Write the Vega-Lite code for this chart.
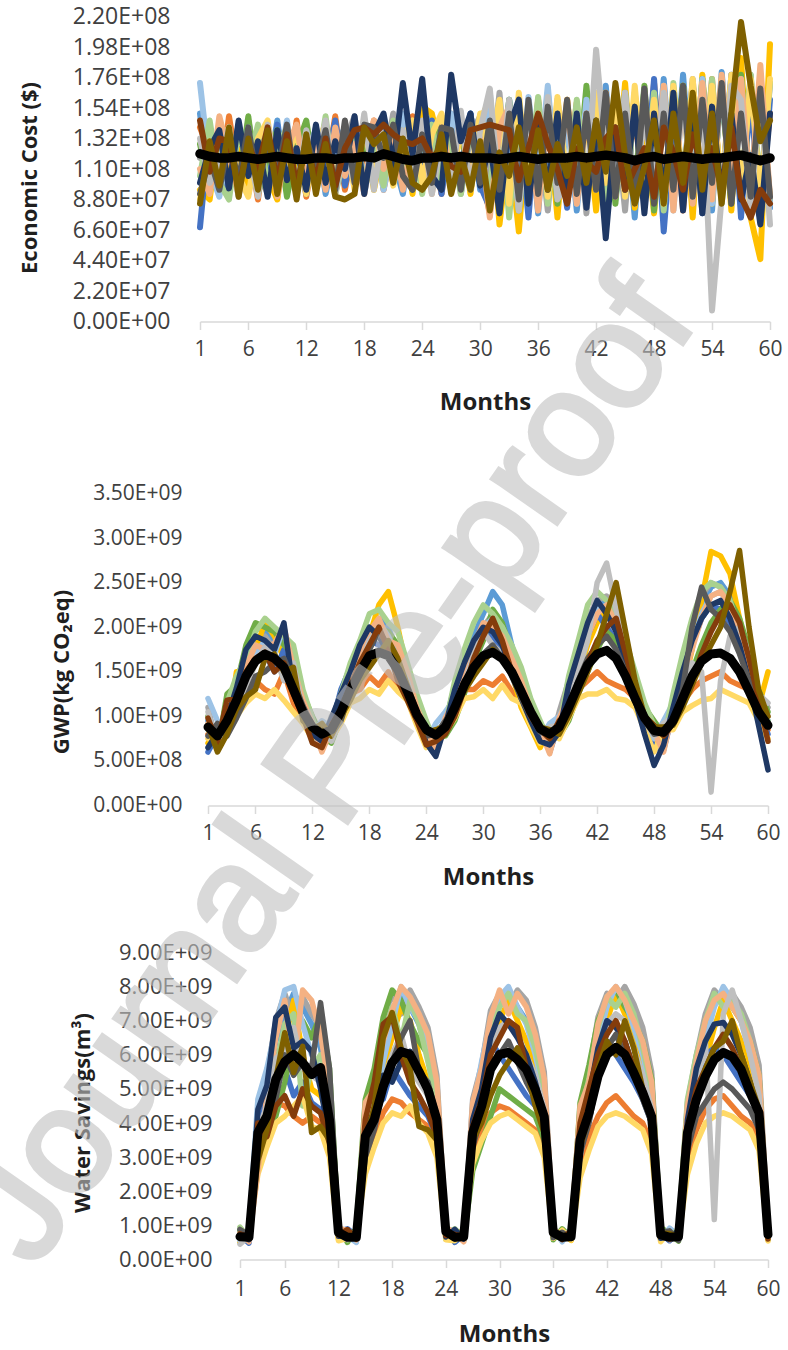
{
"$schema": "https://vega.github.io/schema/vega-lite/v6.json",
"background": "white",
"padding": {"left": -64, "top": 5.5, "right": 5, "bottom": 5},
"bounds": "flush",
"spacing": 147,
"config": {"view": {"stroke": null}, "font": "Open Sans"},
"vconcat": [
{
"width": 570, "height": 305,
"data": {"values": [
{"t":1,"a":150,"b":140,"c":118,"d":95,"e":68,"f":128,"g":172,"h":105,"i":88,"j":110,"k":132,"l":100,"m":92,"n":145,"o":85,"x":121},
{"t":2,"a":98,"b":122,"c":135,"d":88,"e":140,"f":96,"g":110,"h":145,"i":130,"j":92,"k":100,"l":125,"m":118,"n":108,"o":130,"x":119},
{"t":3,"a":135,"b":92,"c":100,"d":142,"e":105,"f":118,"g":90,"h":100,"i":128,"j":148,"k":115,"l":138,"m":95,"n":132,"o":98,"x":118},
{"t":4,"a":105,"b":148,"c":125,"d":110,"e":92,"f":135,"g":128,"h":88,"i":140,"j":120,"k":140,"l":96,"m":130,"n":130,"o":140,"x":118},
{"t":5,"a":142,"b":105,"c":90,"d":128,"e":138,"f":98,"g":100,"h":138,"i":105,"j":92,"k":95,"l":145,"m":102,"n":95,"o":90,"x":119},
{"t":6,"a":92,"b":130,"c":145,"d":95,"e":110,"f":148,"g":140,"h":112,"i":90,"j":132,"k":125,"l":105,"m":140,"n":128,"o":132,"x":118},
{"t":7,"a":128,"b":88,"c":110,"d":140,"e":125,"f":92,"g":95,"h":142,"i":132,"j":100,"k":90,"l":130,"m":98,"n":110,"o":95,"x":117},
{"t":8,"a":100,"b":140,"c":92,"d":105,"e":95,"f":120,"g":135,"h":98,"i":145,"j":138,"k":142,"l":90,"m":128,"n":140,"o":138,"x":118},
{"t":9,"a":145,"b":112,"c":135,"d":88,"e":142,"f":138,"g":105,"h":125,"i":100,"j":90,"k":108,"l":138,"m":105,"n":100,"o":92,"x":119},
{"t":10,"a":95,"b":98,"c":102,"d":135,"e":100,"f":90,"g":145,"h":140,"i":118,"j":125,"k":130,"l":102,"m":142,"n":135,"o":130,"x":118},
{"t":11,"a":132,"b":145,"c":140,"d":112,"e":128,"f":125,"g":92,"h":95,"i":138,"j":142,"k":95,"l":125,"m":95,"n":98,"o":88,"x":117},
{"t":12,"a":110,"b":90,"c":95,"d":140,"e":92,"f":145,"g":120,"h":135,"i":92,"j":100,"k":138,"l":95,"m":132,"n":128,"o":135,"x":117},
{"t":13,"a":140,"b":130,"c":125,"d":98,"e":138,"f":100,"g":138,"h":105,"i":128,"j":130,"k":110,"l":142,"m":110,"n":102,"o":92,"x":118},
{"t":14,"a":92,"b":105,"c":142,"d":130,"e":110,"f":128,"g":98,"h":148,"i":142,"j":95,"k":145,"l":100,"m":138,"n":132,"o":128,"x":118},
{"t":15,"a":125,"b":148,"c":100,"d":92,"e":145,"f":95,"g":130,"h":92,"i":100,"j":140,"k":92,"l":130,"m":95,"n":98,"o":90,"x":117},
{"t":16,"a":140,"b":95,"c":130,"d":138,"e":98,"f":140,"g":108,"h":120,"i":135,"j":105,"k":128,"l":110,"m":145,"n":125,"o":88,"x":118},
{"t":17,"a":98,"b":132,"c":148,"d":110,"e":128,"f":105,"g":145,"h":138,"i":95,"j":128,"k":100,"l":148,"m":100,"n":138,"o":92,"x":118},
{"t":18,"a":135,"b":110,"c":92,"d":145,"e":95,"f":132,"g":100,"h":100,"i":140,"j":92,"k":150,"l":92,"m":142,"n":140,"o":140,"x":119},
{"t":19,"a":102,"b":145,"c":128,"d":95,"e":140,"f":98,"g":138,"h":132,"i":105,"j":145,"k":95,"l":135,"m":140,"n":135,"o":128,"x":118},
{"t":20,"a":145,"b":95,"c":110,"d":130,"e":110,"f":142,"g":95,"h":98,"i":138,"j":110,"k":140,"l":150,"m":118,"n":142,"o":135,"x":121},
{"t":21,"a":118,"b":130,"c":150,"d":100,"e":132,"f":110,"g":128,"h":145,"i":98,"j":135,"k":105,"l":112,"m":142,"n":135,"o":100,"x":119},
{"t":22,"a":92,"b":108,"c":100,"d":142,"e":98,"f":138,"g":150,"h":110,"i":132,"j":95,"k":138,"l":172,"m":105,"n":130,"o":132,"x":117},
{"t":23,"a":140,"b":148,"c":135,"d":92,"e":128,"f":95,"g":105,"h":138,"i":145,"j":130,"k":98,"l":120,"m":95,"n":128,"o":100,"x":116},
{"t":24,"a":110,"b":100,"c":95,"d":155,"e":100,"f":135,"g":140,"h":92,"i":100,"j":142,"k":145,"l":175,"m":135,"n":132,"o":95,"x":118},
{"t":25,"a":148,"b":130,"c":140,"d":150,"e":145,"f":100,"g":95,"h":142,"i":135,"j":92,"k":92,"l":105,"m":100,"n":118,"o":105,"x":118},
{"t":26,"a":95,"b":92,"c":108,"d":120,"e":92,"f":148,"g":130,"h":100,"i":150,"j":140,"k":130,"l":95,"m":140,"n":125,"o":135,"x":119},
{"t":27,"a":132,"b":145,"c":150,"d":98,"e":140,"f":110,"g":150,"h":135,"i":98,"j":105,"k":100,"l":178,"m":138,"n":112,"o":92,"x":118},
{"t":28,"a":105,"b":98,"c":92,"d":140,"e":108,"f":142,"g":100,"h":92,"i":140,"j":148,"k":152,"l":130,"m":95,"n":108,"o":120,"x":119},
{"t":29,"a":150,"b":138,"c":135,"d":92,"e":150,"f":95,"g":148,"h":140,"i":105,"j":98,"k":95,"l":150,"m":142,"n":138,"o":95,"x":118},
{"t":30,"a":95,"b":110,"c":148,"d":145,"e":98,"f":135,"g":108,"h":105,"i":150,"j":132,"k":138,"l":98,"m":100,"n":140,"o":130,"x":118},
{"t":31,"a":140,"b":78,"c":100,"d":160,"e":82,"f":152,"g":165,"h":95,"i":120,"j":75,"k":168,"l":130,"m":145,"n":142,"o":80,"x":118},
{"t":32,"a":85,"b":150,"c":165,"d":70,"e":145,"f":90,"g":95,"h":158,"i":160,"j":140,"k":90,"l":78,"m":95,"n":140,"o":122,"x":117},
{"t":33,"a":160,"b":95,"c":82,"d":130,"e":100,"f":160,"g":140,"h":75,"i":85,"j":155,"k":160,"l":140,"m":150,"n":138,"o":105,"x":118},
{"t":34,"a":100,"b":140,"c":150,"d":65,"e":150,"f":80,"g":80,"h":150,"i":165,"j":90,"k":80,"l":160,"m":88,"n":102,"o":140,"x":119},
{"t":35,"a":150,"b":82,"c":95,"d":145,"e":75,"f":145,"g":162,"h":95,"i":92,"j":148,"k":150,"l":85,"m":160,"n":125,"o":100,"x":118},
{"t":36,"a":78,"b":160,"c":140,"d":90,"e":158,"f":100,"g":100,"h":162,"i":150,"j":80,"k":95,"l":145,"m":92,"n":150,"o":138,"x":117},
{"t":37,"a":165,"b":92,"c":80,"d":150,"e":95,"f":160,"g":170,"h":85,"i":90,"j":155,"k":162,"l":95,"m":155,"n":128,"o":95,"x":118},
{"t":38,"a":92,"b":145,"c":160,"d":75,"e":140,"f":85,"g":90,"h":148,"i":162,"j":100,"k":88,"l":150,"m":100,"n":110,"o":128,"x":118},
{"t":39,"a":150,"b":100,"c":95,"d":160,"e":82,"f":150,"g":145,"h":92,"i":100,"j":160,"k":100,"l":88,"m":160,"n":85,"o":105,"x":118},
{"t":40,"a":80,"b":158,"c":150,"d":95,"e":155,"f":92,"g":85,"h":160,"i":145,"j":85,"k":150,"l":150,"m":92,"n":125,"o":140,"x":119},
{"t":41,"a":160,"b":85,"c":78,"d":150,"e":100,"f":170,"g":160,"h":100,"i":88,"j":150,"k":90,"l":82,"m":150,"n":115,"o":100,"x":118},
{"t":42,"a":95,"b":150,"c":165,"d":80,"e":150,"f":95,"g":100,"h":150,"i":165,"j":95,"k":196,"l":145,"m":95,"n":108,"o":145,"x":119},
{"t":43,"a":170,"b":95,"c":90,"d":165,"e":68,"f":160,"g":150,"h":88,"i":100,"j":165,"k":120,"l":60,"m":165,"n":132,"o":108,"x":120},
{"t":44,"a":88,"b":165,"c":150,"d":90,"e":148,"f":85,"g":95,"h":160,"i":158,"j":90,"k":100,"l":140,"m":90,"n":140,"o":172,"x":119},
{"t":45,"a":155,"b":100,"c":80,"d":172,"e":95,"f":165,"g":165,"h":95,"i":90,"j":160,"k":165,"l":95,"m":150,"n":95,"o":120,"x":118},
{"t":46,"a":75,"b":150,"c":165,"d":82,"e":160,"f":95,"g":88,"h":155,"i":170,"j":85,"k":88,"l":155,"m":88,"n":110,"o":85,"x":116},
{"t":47,"a":165,"b":85,"c":95,"d":150,"e":90,"f":170,"g":160,"h":88,"i":95,"j":165,"k":150,"l":78,"m":168,"n":125,"o":112,"x":118},
{"t":48,"a":95,"b":172,"c":160,"d":78,"e":175,"f":80,"g":95,"h":165,"i":160,"j":90,"k":95,"l":150,"m":85,"n":90,"o":145,"x":119},
{"t":49,"a":175,"b":90,"c":75,"d":160,"e":65,"f":165,"g":170,"h":80,"i":85,"j":170,"k":165,"l":90,"m":150,"n":140,"o":85,"x":117},
{"t":50,"a":85,"b":165,"c":165,"d":88,"e":150,"f":95,"g":80,"h":172,"i":170,"j":80,"k":100,"l":165,"m":95,"n":122,"o":150,"x":118},
{"t":51,"a":178,"b":80,"c":90,"d":170,"e":100,"f":170,"g":165,"h":95,"i":95,"j":168,"k":160,"l":80,"m":170,"n":95,"o":100,"x":119},
{"t":52,"a":90,"b":170,"c":175,"d":75,"e":172,"f":88,"g":90,"h":165,"i":175,"j":85,"k":90,"l":160,"m":90,"n":135,"o":165,"x":118},
{"t":53,"a":170,"b":95,"c":80,"d":178,"e":78,"f":175,"g":175,"h":90,"i":88,"j":172,"k":160,"l":78,"m":160,"n":110,"o":95,"x":117},
{"t":54,"a":80,"b":175,"c":170,"d":85,"e":160,"f":90,"g":85,"h":175,"i":170,"j":88,"k":8,"l":155,"m":100,"n":125,"o":150,"x":118},
{"t":55,"a":180,"b":88,"c":90,"d":175,"e":90,"f":170,"g":172,"h":85,"i":95,"j":178,"k":90,"l":90,"m":172,"n":95,"o":85,"x":118},
{"t":56,"a":90,"b":168,"c":175,"d":80,"e":178,"f":85,"g":90,"h":170,"i":178,"j":90,"k":170,"l":150,"m":85,"n":140,"o":150,"x":119},
{"t":57,"a":172,"b":90,"c":85,"d":190,"e":75,"f":178,"g":175,"h":92,"i":90,"j":175,"k":160,"l":88,"m":150,"n":90,"o":216,"x":120},
{"t":58,"a":95,"b":175,"c":178,"d":75,"e":165,"f":92,"g":88,"h":178,"i":175,"j":92,"k":80,"l":120,"m":90,"n":75,"o":170,"x":118},
{"t":59,"a":175,"b":85,"c":80,"d":45,"e":72,"f":170,"g":170,"h":95,"i":90,"j":185,"k":165,"l":70,"m":168,"n":95,"o":130,"x":116},
{"t":60,"a":82,"b":150,"c":172,"d":200,"e":160,"f":88,"g":85,"h":172,"i":175,"j":90,"k":70,"l":150,"m":90,"n":85,"o":145,"x":118}
]},
"transform": [{"fold": ["a","b","c","d","e","f","g","h","i","j","k","l","m","n","o","x"], "as": ["s","v"]}],
"encoding": {
"x": {"field": "t", "type": "quantitative",
 "scale": {"domain": [1,60], "range": [0,570], "nice": false, "zero": false},
 "axis": {"values": [1,6,12,18,24,30,36,42,48,54,60], "title": "Months", "grid": false, "domainColor": "#d9d9d9", "domainWidth": 1.5, "tickColor": "#d9d9d9", "tickWidth": 1.5, "tickSize": 8, "labelFontSize": 21, "labelPadding": 9, "labelFlush": false, "labelOverlap": false, "labelColor": "#404040", "titleFontSize": 24, "titleFontWeight": "bold", "titleColor": "#1f1f1f", "titleY": 81, "titleBaseline": "middle"}},
"y": {"field": "v", "type": "quantitative",
 "scale": {"domain": [0,220], "nice": false, "zero": true},
 "axis": {"values": [0,22,44,66,88,110,132,154,176,198,220], "title": "Economic Cost ($)", "grid": false, "domain": false, "ticks": false, "tickSize": 0, "labelPadding": 30, "labelFontSize": 23, "labelOverlap": false, "labelColor": "#404040",
  "labelExpr": "datum.value == 0 ? '0.00E+00' : format(datum.value*1e6/pow(10,floor(log(datum.value*1e6)/LN10+1e-9)),'.2f')+'E+'+(floor(log(datum.value*1e6)/LN10+1e-9)<10?'0':'')+floor(log(datum.value*1e6)/LN10+1e-9)",
  "titleX": -171, "titleY": 161, "titleAngle": 270, "titleBaseline": "middle", "titleAlign": "center", "titleFontSize": 22, "titleFontWeight": "bold", "titleColor": "#1f1f1f"}}
},
"layer": [
{"transform": [{"filter": "datum.s !== 'x'"}],
 "mark": {"type": "line", "strokeWidth": 6, "strokeCap": "round", "strokeJoin": "round"},
 "encoding": {"color": {"field": "s", "type": "nominal", "legend": null,
  "scale": {"domain": ["a","b","c","d","e","f","g","h","i","j","k","l","m","n","o"], "range": ["#5B9BD5","#ED7D31","#A5A5A5","#FFC000","#4472C4","#70AD47","#9DC3E6","#A9D18E","#FFD966","#F4B183","#BFBFBF","#1F3864","#595959","#843C0C","#7F6000"]}}}},
{"transform": [{"filter": "datum.s === 'x'"}],
 "mark": {"type": "line", "color": "#000000", "strokeWidth": 9.5, "strokeCap": "round", "strokeJoin": "round"},
 "encoding": {}}
]
},
{
"width": 570, "height": 337,
"data": {"values": [
{"t":1,"a":95,"b":80,"c":110,"d":70,"e":60,"f":100,"g":120,"h":85,"i":75,"j":92,"k":105,"l":65,"m":78,"n":98,"o":90,"x":88},
{"t":2,"a":72,"b":90,"c":65,"d":85,"e":80,"f":62,"g":95,"h":70,"i":88,"j":75,"k":68,"l":82,"m":92,"n":70,"o":60,"x":78},
{"t":3,"a":110,"b":88,"c":120,"d":80,"e":100,"f":125,"g":85,"h":115,"i":92,"j":105,"k":82,"l":98,"m":78,"n":118,"o":80,"x":95},
{"t":4,"a":140,"b":110,"c":125,"d":150,"e":105,"f":135,"g":115,"h":145,"i":100,"j":128,"k":112,"l":132,"m":98,"n":120,"o":108,"x":118},
{"t":5,"a":170,"b":125,"c":160,"d":150,"e":140,"f":180,"g":148,"h":165,"i":115,"j":155,"k":130,"l":175,"m":120,"n":150,"o":122,"x":145},
{"t":6,"a":200,"b":140,"c":185,"d":175,"e":165,"f":205,"g":170,"h":195,"i":125,"j":180,"k":160,"l":190,"m":145,"n":165,"o":130,"x":162},
{"t":7,"a":195,"b":130,"c":190,"d":205,"e":170,"f":200,"g":185,"h":210,"i":120,"j":175,"k":178,"l":185,"m":150,"n":172,"o":165,"x":170},
{"t":8,"a":185,"b":125,"c":175,"d":190,"e":150,"f":195,"g":170,"h":200,"i":130,"j":182,"k":170,"l":175,"m":160,"n":150,"o":170,"x":165},
{"t":9,"a":190,"b":150,"c":195,"d":165,"e":175,"f":180,"g":200,"h":190,"i":118,"j":200,"k":140,"l":205,"m":165,"n":160,"o":150,"x":155},
{"t":10,"a":150,"b":115,"c":160,"d":130,"e":145,"f":170,"g":140,"h":180,"i":105,"j":155,"k":160,"l":130,"m":140,"n":125,"o":155,"x":130},
{"t":11,"a":112,"b":95,"c":120,"d":100,"e":110,"f":125,"g":98,"h":130,"i":92,"j":118,"k":105,"l":108,"m":112,"n":100,"o":95,"x":105},
{"t":12,"a":90,"b":80,"c":95,"d":78,"e":85,"f":100,"g":82,"h":98,"i":75,"j":92,"k":88,"l":80,"m":90,"n":70,"o":85,"x":88},
{"t":13,"a":75,"b":85,"c":68,"d":90,"e":62,"f":78,"g":95,"h":70,"i":82,"j":60,"k":88,"l":72,"m":80,"n":65,"o":92,"x":80},
{"t":14,"a":92,"b":78,"c":100,"d":82,"e":90,"f":70,"g":88,"h":95,"i":75,"j":85,"k":72,"l":98,"m":80,"n":90,"o":78,"x":85},
{"t":15,"a":120,"b":95,"c":115,"d":102,"e":130,"f":98,"g":110,"h":125,"i":92,"j":118,"k":100,"l":125,"m":95,"n":108,"o":100,"x":105},
{"t":16,"a":150,"b":125,"c":140,"d":135,"e":155,"f":120,"g":145,"h":160,"i":115,"j":140,"k":130,"l":150,"m":128,"n":135,"o":118,"x":130},
{"t":17,"a":175,"b":130,"c":180,"d":160,"e":170,"f":150,"g":165,"h":185,"i":120,"j":170,"k":155,"l":180,"m":150,"n":160,"o":140,"x":150},
{"t":18,"a":195,"b":145,"c":200,"d":190,"e":185,"f":175,"g":190,"h":215,"i":130,"j":195,"k":185,"l":200,"m":175,"n":180,"o":155,"x":168},
{"t":19,"a":210,"b":135,"c":195,"d":225,"e":180,"f":200,"g":205,"h":220,"i":125,"j":210,"k":200,"l":190,"m":195,"n":200,"o":170,"x":172},
{"t":20,"a":200,"b":150,"c":185,"d":240,"e":170,"f":195,"g":190,"h":205,"i":140,"j":185,"k":175,"l":170,"m":180,"n":175,"o":185,"x":168},
{"t":21,"a":170,"b":130,"c":175,"d":200,"e":160,"f":180,"g":165,"h":195,"i":128,"j":180,"k":160,"l":150,"m":155,"n":140,"o":165,"x":152},
{"t":22,"a":140,"b":120,"c":150,"d":150,"e":130,"f":145,"g":135,"h":160,"i":118,"j":150,"k":140,"l":125,"m":125,"n":118,"o":135,"x":128},
{"t":23,"a":108,"b":95,"c":115,"d":100,"e":105,"f":112,"g":100,"h":125,"i":90,"j":110,"k":100,"l":98,"m":100,"n":95,"o":105,"x":102},
{"t":24,"a":80,"b":78,"c":88,"d":75,"e":82,"f":90,"g":72,"h":95,"i":65,"j":85,"k":80,"l":70,"m":78,"n":68,"o":82,"x":85},
{"t":25,"a":70,"b":82,"c":65,"d":88,"e":58,"f":75,"g":92,"h":68,"i":85,"j":60,"k":78,"l":55,"m":80,"n":72,"o":85,"x":79},
{"t":26,"a":95,"b":85,"c":100,"d":80,"e":92,"f":78,"g":105,"h":90,"i":82,"j":98,"k":85,"l":90,"m":95,"n":80,"o":88,"x":88},
{"t":27,"a":130,"b":100,"c":125,"d":108,"e":135,"f":95,"g":120,"h":140,"i":98,"j":118,"k":105,"l":130,"m":110,"n":100,"o":112,"x":110},
{"t":28,"a":165,"b":130,"c":150,"d":140,"e":165,"f":125,"g":155,"h":175,"i":120,"j":150,"k":135,"l":160,"m":140,"n":130,"o":128,"x":135},
{"t":29,"a":190,"b":130,"c":185,"d":175,"e":180,"f":160,"g":175,"h":205,"i":122,"j":180,"k":170,"l":185,"m":150,"n":165,"o":145,"x":155},
{"t":30,"a":215,"b":140,"c":200,"d":190,"e":200,"f":185,"g":200,"h":225,"i":130,"j":205,"k":195,"l":200,"m":170,"n":190,"o":160,"x":168},
{"t":31,"a":240,"b":135,"c":215,"d":200,"e":190,"f":220,"g":210,"h":215,"i":120,"j":200,"k":180,"l":195,"m":180,"n":210,"o":175,"x":172},
{"t":32,"a":225,"b":145,"c":195,"d":185,"e":175,"f":205,"g":200,"h":200,"i":135,"j":190,"k":170,"l":180,"m":165,"n":185,"o":165,"x":165},
{"t":33,"a":180,"b":128,"c":175,"d":150,"e":165,"f":170,"g":175,"h":180,"i":120,"j":165,"k":150,"l":150,"m":145,"n":150,"o":150,"x":150},
{"t":34,"a":140,"b":118,"c":145,"d":110,"e":140,"f":150,"g":135,"h":155,"i":115,"j":140,"k":125,"l":120,"m":120,"n":125,"o":130,"x":128},
{"t":35,"a":100,"b":95,"c":110,"d":88,"e":112,"f":118,"g":100,"h":120,"i":90,"j":108,"k":98,"l":95,"m":100,"n":100,"o":108,"x":105},
{"t":36,"a":78,"b":80,"c":85,"d":65,"e":90,"f":92,"g":75,"h":95,"i":70,"j":85,"k":80,"l":72,"m":82,"n":85,"o":88,"x":86},
{"t":37,"a":72,"b":85,"c":65,"d":90,"e":60,"f":78,"g":92,"h":70,"i":82,"j":58,"k":88,"l":68,"m":80,"n":75,"o":85,"x":80},
{"t":38,"a":95,"b":80,"c":105,"d":85,"e":92,"f":78,"g":100,"h":88,"i":75,"j":98,"k":90,"l":82,"m":85,"n":95,"o":80,"x":88},
{"t":39,"a":130,"b":100,"c":140,"d":105,"e":125,"f":95,"g":120,"h":145,"i":98,"j":122,"k":115,"l":135,"m":110,"n":105,"o":100,"x":110},
{"t":40,"a":165,"b":130,"c":175,"d":145,"e":160,"f":125,"g":160,"h":185,"i":120,"j":155,"k":150,"l":170,"m":140,"n":130,"o":125,"x":135},
{"t":41,"a":200,"b":140,"c":210,"d":180,"e":190,"f":150,"g":195,"h":225,"i":125,"j":190,"k":185,"l":205,"m":165,"n":160,"o":150,"x":158},
{"t":42,"a":225,"b":150,"c":230,"d":205,"e":215,"f":175,"g":220,"h":240,"i":125,"j":215,"k":250,"l":230,"m":180,"n":185,"o":180,"x":170},
{"t":43,"a":230,"b":140,"c":235,"d":220,"e":200,"f":195,"g":225,"h":230,"i":130,"j":225,"k":272,"l":215,"m":190,"n":200,"o":215,"x":174},
{"t":44,"a":210,"b":135,"c":215,"d":230,"e":185,"f":185,"g":210,"h":215,"i":120,"j":205,"k":220,"l":195,"m":175,"n":210,"o":250,"x":165},
{"t":45,"a":175,"b":130,"c":185,"d":190,"e":165,"f":160,"g":175,"h":185,"i":118,"j":170,"k":175,"l":160,"m":150,"n":170,"o":195,"x":145},
{"t":46,"a":130,"b":120,"c":145,"d":140,"e":135,"f":130,"g":135,"h":150,"i":110,"j":135,"k":130,"l":118,"m":120,"n":130,"o":140,"x":120},
{"t":47,"a":95,"b":100,"c":105,"d":95,"e":90,"f":110,"g":92,"h":115,"i":85,"j":100,"k":95,"l":80,"m":95,"n":100,"o":100,"x":98},
{"t":48,"a":70,"b":88,"c":80,"d":72,"e":65,"f":95,"g":75,"h":90,"i":60,"j":82,"k":78,"l":45,"m":80,"n":90,"o":88,"x":84},
{"t":49,"a":75,"b":90,"c":70,"d":88,"e":62,"f":80,"g":95,"h":72,"i":85,"j":60,"k":92,"l":68,"m":82,"n":78,"o":88,"x":82},
{"t":50,"a":110,"b":92,"c":120,"d":95,"e":105,"f":88,"g":115,"h":125,"i":85,"j":108,"k":100,"l":110,"m":95,"n":92,"o":90,"x":95},
{"t":51,"a":150,"b":115,"c":165,"d":130,"e":145,"f":120,"g":145,"h":170,"i":105,"j":140,"k":130,"l":150,"m":130,"n":115,"o":110,"x":120},
{"t":52,"a":190,"b":130,"c":205,"d":175,"e":180,"f":150,"g":180,"h":210,"i":112,"j":175,"k":160,"l":185,"m":200,"n":140,"o":135,"x":145},
{"t":53,"a":225,"b":140,"c":235,"d":230,"e":210,"f":180,"g":215,"h":240,"i":118,"j":210,"k":150,"l":210,"m":245,"n":170,"o":160,"x":162},
{"t":54,"a":245,"b":145,"c":250,"d":285,"e":225,"f":205,"g":235,"h":250,"i":120,"j":235,"k":15,"l":225,"m":220,"n":195,"o":180,"x":170},
{"t":55,"a":250,"b":150,"c":245,"d":280,"e":220,"f":220,"g":240,"h":245,"i":130,"j":240,"k":140,"l":230,"m":210,"n":215,"o":200,"x":171},
{"t":56,"a":235,"b":140,"c":230,"d":260,"e":205,"f":230,"g":225,"h":230,"i":125,"j":225,"k":190,"l":210,"m":195,"n":225,"o":240,"x":165},
{"t":57,"a":205,"b":135,"c":200,"d":210,"e":180,"f":210,"g":195,"h":195,"i":120,"j":195,"k":200,"l":180,"m":170,"n":205,"o":286,"x":150},
{"t":58,"a":165,"b":130,"c":160,"d":165,"e":150,"f":175,"g":155,"h":160,"i":115,"j":155,"k":170,"l":140,"m":140,"n":165,"o":200,"x":128},
{"t":59,"a":120,"b":100,"c":125,"d":110,"e":110,"f":130,"g":115,"h":120,"i":95,"j":118,"k":125,"l":90,"m":105,"n":120,"o":130,"x":105},
{"t":60,"a":95,"b":85,"c":110,"d":150,"e":80,"f":105,"g":100,"h":95,"i":75,"j":100,"k":115,"l":40,"m":88,"n":72,"o":100,"x":90}
]},
"transform": [{"fold": ["a","b","c","d","e","f","g","h","i","j","k","l","m","n","o","x"], "as": ["s","v"]}],
"encoding": {
"x": {"field": "t", "type": "quantitative",
 "scale": {"domain": [1,60], "range": [8,568], "nice": false, "zero": false},
 "axis": {"values": [1,6,12,18,24,30,36,42,48,54,60], "title": "Months", "grid": false, "domainColor": "#d9d9d9", "domainWidth": 1.5, "tickColor": "#d9d9d9", "tickWidth": 1.5, "tickSize": 8, "labelFontSize": 21, "labelPadding": 9, "labelFlush": false, "labelOverlap": false, "labelColor": "#404040", "titleFontSize": 24, "titleFontWeight": "bold", "titleColor": "#1f1f1f", "titleY": 72, "titleBaseline": "middle"}},
"y": {"field": "v", "type": "quantitative",
 "scale": {"domain": [0,350], "range": [337,25], "nice": false, "zero": true},
 "axis": {"values": [0,50,100,150,200,250,300,350], "title": "GWP(kg CO₂eq)", "offset": -8, "grid": false, "domain": false, "ticks": false, "tickSize": 0, "labelPadding": 26, "labelFontSize": 21, "labelOverlap": false, "labelColor": "#404040",
  "labelExpr": "datum.value == 0 ? '0.00E+00' : format(datum.value*1e7/pow(10,floor(log(datum.value*1e7)/LN10+1e-9)),'.2f')+'E+'+(floor(log(datum.value*1e7)/LN10+1e-9)<10?'0':'')+floor(log(datum.value*1e7)/LN10+1e-9)",
  "titleX": -147, "titleY": 203, "titleAngle": 270, "titleBaseline": "middle", "titleAlign": "center", "titleFontSize": 22, "titleFontWeight": "bold", "titleColor": "#1f1f1f"}}
},
"layer": [
{"transform": [{"filter": "datum.s !== 'x'"}],
 "mark": {"type": "line", "strokeWidth": 5.5, "strokeCap": "round", "strokeJoin": "round"},
 "encoding": {"color": {"field": "s", "type": "nominal", "legend": null,
  "scale": {"domain": ["a","b","c","d","e","f","g","h","i","j","k","l","m","n","o"], "range": ["#5B9BD5","#ED7D31","#A5A5A5","#FFC000","#4472C4","#70AD47","#9DC3E6","#A9D18E","#FFD966","#F4B183","#BFBFBF","#1F3864","#595959","#843C0C","#7F6000"]}}}},
{"transform": [{"filter": "datum.s === 'x'"}],
 "mark": {"type": "line", "color": "#000000", "strokeWidth": 9, "strokeCap": "round", "strokeJoin": "round"},
 "encoding": {}}
]
},
{
"width": 570, "height": 307,
"data": {"values": [
{"t":1,"a":80,"b":60,"c":90,"d":50,"e":72,"f":85,"g":55,"h":95,"i":65,"j":78,"k":45,"l":70,"m":88,"n":75,"o":62,"x":67},
{"t":2,"a":55,"b":75,"c":60,"d":85,"e":48,"f":70,"g":90,"h":62,"i":80,"j":52,"k":68,"l":58,"m":72,"n":66,"o":74,"x":65},
{"t":3,"a":420,"b":300,"c":450,"d":330,"e":390,"f":280,"g":470,"h":350,"i":250,"j":260,"k":380,"l":440,"m":320,"n":400,"o":290,"x":372},
{"t":4,"a":500,"b":380,"c":540,"d":350,"e":470,"f":400,"g":560,"h":430,"i":330,"j":480,"k":450,"l":510,"m":400,"n":360,"o":380,"x":420},
{"t":5,"a":640,"b":460,"c":700,"d":520,"e":600,"f":420,"g":680,"h":560,"i":400,"j":650,"k":590,"l":710,"m":470,"n":450,"o":530,"x":528},
{"t":6,"a":720,"b":450,"c":780,"d":640,"e":560,"f":520,"g":790,"h":690,"i":420,"j":760,"k":610,"l":740,"m":600,"n":480,"o":665,"x":580},
{"t":7,"a":780,"b":420,"c":700,"d":760,"e":480,"f":650,"g":800,"h":720,"i":450,"j":560,"k":680,"l":620,"m":540,"n":420,"o":548,"x":601},
{"t":8,"a":740,"b":400,"c":770,"d":600,"e":520,"f":700,"g":690,"h":450,"i":480,"j":790,"k":560,"l":640,"m":580,"n":500,"o":625,"x":577},
{"t":9,"a":690,"b":420,"c":720,"d":500,"e":460,"f":650,"g":600,"h":560,"i":390,"j":760,"k":540,"l":610,"m":560,"n":450,"o":372,"x":542},
{"t":10,"a":620,"b":400,"c":680,"d":480,"e":440,"f":720,"g":560,"h":600,"i":380,"j":660,"k":520,"l":500,"m":753,"n":430,"o":390,"x":563},
{"t":11,"a":480,"b":340,"c":520,"d":420,"e":380,"f":560,"g":460,"h":500,"i":300,"j":500,"k":430,"l":360,"m":560,"n":340,"o":350,"x":410},
{"t":12,"a":90,"b":70,"c":95,"d":60,"e":82,"f":98,"g":65,"h":88,"i":55,"j":92,"k":75,"l":68,"m":85,"n":72,"o":80,"x":79},
{"t":13,"a":60,"b":82,"c":55,"d":75,"e":90,"f":50,"g":68,"h":78,"i":62,"j":85,"k":58,"l":72,"m":66,"n":88,"o":70,"x":65},
{"t":14,"a":78,"b":55,"c":88,"d":62,"e":70,"f":92,"g":50,"h":66,"i":84,"j":58,"k":76,"l":64,"m":80,"n":60,"o":72,"x":65},
{"t":15,"a":400,"b":290,"c":440,"d":310,"e":380,"f":470,"g":330,"h":420,"i":250,"j":460,"k":350,"l":390,"m":300,"n":410,"o":340,"x":361},
{"t":16,"a":480,"b":360,"c":530,"d":400,"e":450,"f":560,"g":420,"h":510,"i":330,"j":500,"k":470,"l":430,"m":380,"n":520,"o":450,"x":410},
{"t":17,"a":620,"b":430,"c":700,"d":560,"e":470,"f":710,"g":580,"h":650,"i":400,"j":640,"k":520,"l":540,"m":500,"n":690,"o":650,"x":507},
{"t":18,"a":720,"b":470,"c":780,"d":650,"e":560,"f":790,"g":690,"h":740,"i":430,"j":730,"k":600,"l":520,"m":580,"n":713,"o":724,"x":577},
{"t":19,"a":780,"b":460,"c":720,"d":740,"e":520,"f":760,"g":800,"h":640,"i":420,"j":800,"k":660,"l":580,"m":650,"n":600,"o":620,"x":610},
{"t":20,"a":740,"b":430,"c":790,"d":700,"e":480,"f":690,"g":740,"h":760,"i":450,"j":770,"k":560,"l":610,"m":700,"n":520,"o":560,"x":601},
{"t":21,"a":690,"b":410,"c":740,"d":600,"e":450,"f":640,"g":700,"h":690,"i":400,"j":720,"k":520,"l":560,"m":550,"n":480,"o":390,"x":551},
{"t":22,"a":600,"b":390,"c":680,"d":520,"e":420,"f":600,"g":640,"h":580,"i":370,"j":660,"k":480,"l":500,"m":520,"n":430,"o":380,"x":498},
{"t":23,"a":470,"b":330,"c":540,"d":440,"e":360,"f":500,"g":480,"h":460,"i":300,"j":520,"k":400,"l":410,"m":420,"n":360,"o":350,"x":410},
{"t":24,"a":92,"b":68,"c":88,"d":75,"e":98,"f":60,"g":85,"h":72,"i":58,"j":95,"k":80,"l":66,"m":90,"n":70,"o":86,"x":82},
{"t":25,"a":72,"b":58,"c":85,"d":62,"e":50,"f":80,"g":66,"h":90,"i":55,"j":76,"k":68,"l":88,"m":60,"n":74,"o":64,"x":65},
{"t":26,"a":58,"b":80,"c":62,"d":90,"e":72,"f":55,"g":85,"h":64,"i":78,"j":52,"k":70,"l":60,"m":82,"n":66,"o":76,"x":67},
{"t":27,"a":420,"b":300,"c":470,"d":340,"e":400,"f":260,"g":440,"h":380,"i":280,"j":460,"k":360,"l":410,"m":330,"n":390,"o":350,"x":372},
{"t":28,"a":540,"b":370,"c":570,"d":450,"e":500,"f":340,"g":580,"h":520,"i":350,"j":560,"k":480,"l":500,"m":420,"n":470,"o":400,"x":449},
{"t":29,"a":680,"b":430,"c":730,"d":600,"e":640,"f":420,"g":700,"h":660,"i":400,"j":710,"k":620,"l":650,"m":560,"n":600,"o":480,"x":557},
{"t":30,"a":760,"b":450,"c":780,"d":700,"e":600,"f":500,"g":770,"h":740,"i":420,"j":790,"k":680,"l":720,"m":600,"n":650,"o":540,"x":601},
{"t":31,"a":790,"b":440,"c":740,"d":760,"e":560,"f":480,"g":800,"h":780,"i":430,"j":720,"k":700,"l":690,"m":640,"n":700,"o":580,"x":607},
{"t":32,"a":740,"b":420,"c":790,"d":700,"e":520,"f":460,"g":740,"h":720,"i":410,"j":780,"k":660,"l":650,"m":580,"n":680,"o":620,"x":586},
{"t":33,"a":700,"b":400,"c":760,"d":640,"e":480,"f":440,"g":690,"h":700,"i":390,"j":740,"k":600,"l":600,"m":520,"n":560,"o":560,"x":557},
{"t":34,"a":620,"b":380,"c":680,"d":560,"e":450,"f":420,"g":600,"h":620,"i":370,"j":660,"k":540,"l":520,"m":470,"n":480,"o":450,"x":498},
{"t":35,"a":500,"b":330,"c":550,"d":460,"e":390,"f":350,"g":480,"h":500,"i":300,"j":530,"k":440,"l":420,"m":390,"n":400,"o":370,"x":419},
{"t":36,"a":88,"b":66,"c":95,"d":72,"e":84,"f":58,"g":90,"h":78,"i":62,"j":92,"k":70,"l":86,"m":64,"n":80,"o":74,"x":79},
{"t":37,"a":62,"b":84,"c":56,"d":78,"e":68,"f":90,"g":52,"h":74,"i":86,"j":60,"k":72,"l":64,"m":80,"n":58,"o":70,"x":65},
{"t":38,"a":80,"b":60,"c":88,"d":56,"e":74,"f":64,"g":92,"h":70,"i":58,"j":84,"k":66,"l":78,"m":62,"n":86,"o":72,"x":67},
{"t":39,"a":400,"b":280,"c":440,"d":320,"e":380,"f":460,"g":300,"h":420,"i":240,"j":450,"k":350,"l":370,"m":310,"n":400,"o":330,"x":352},
{"t":40,"a":520,"b":360,"c":550,"d":430,"e":480,"f":570,"g":450,"h":530,"i":320,"j":520,"k":460,"l":480,"m":400,"n":500,"o":420,"x":430},
{"t":41,"a":660,"b":420,"c":710,"d":580,"e":620,"f":700,"g":640,"h":680,"i":390,"j":690,"k":600,"l":620,"m":540,"n":600,"o":560,"x":537},
{"t":42,"a":760,"b":460,"c":780,"d":700,"e":640,"f":760,"g":740,"h":770,"i":420,"j":770,"k":690,"l":700,"m":620,"n":660,"o":640,"x":601},
{"t":43,"a":790,"b":480,"c":760,"d":780,"e":600,"f":790,"g":800,"h":740,"i":430,"j":800,"k":720,"l":680,"m":660,"n":700,"o":600,"x":622},
{"t":44,"a":760,"b":450,"c":800,"d":720,"e":560,"f":740,"g":760,"h":780,"i":420,"j":760,"k":700,"l":640,"m":600,"n":640,"o":700,"x":601},
{"t":45,"a":700,"b":420,"c":750,"d":640,"e":520,"f":700,"g":680,"h":720,"i":400,"j":700,"k":620,"l":560,"m":540,"n":560,"o":620,"x":548},
{"t":46,"a":620,"b":400,"c":680,"d":560,"e":470,"f":640,"g":600,"h":620,"i":380,"j":640,"k":540,"l":480,"m":470,"n":500,"o":500,"x":489},
{"t":47,"a":500,"b":340,"c":550,"d":460,"e":400,"f":530,"g":480,"h":500,"i":310,"j":520,"k":440,"l":400,"m":400,"n":410,"o":420,"x":419},
{"t":48,"a":82,"b":60,"c":90,"d":66,"e":76,"f":95,"g":58,"h":86,"i":52,"j":88,"k":70,"l":62,"m":80,"n":68,"o":78,"x":73},
{"t":49,"a":70,"b":88,"c":60,"d":80,"e":55,"f":75,"g":92,"h":64,"i":82,"j":58,"k":74,"l":66,"m":84,"n":62,"o":76,"x":65},
{"t":50,"a":58,"b":72,"c":86,"d":60,"e":80,"f":54,"g":70,"h":90,"i":62,"j":78,"k":66,"l":84,"m":56,"n":74,"o":68,"x":67},
{"t":51,"a":420,"b":300,"c":460,"d":330,"e":400,"f":440,"g":350,"h":470,"i":250,"j":450,"k":380,"l":410,"m":320,"n":390,"o":360,"x":372},
{"t":52,"a":560,"b":380,"c":600,"d":470,"e":520,"f":580,"g":500,"h":600,"i":340,"j":580,"k":520,"l":560,"m":420,"n":500,"o":460,"x":469},
{"t":53,"a":680,"b":440,"c":720,"d":580,"e":600,"f":700,"g":640,"h":700,"i":400,"j":700,"k":640,"l":640,"m":460,"n":560,"o":560,"x":537},
{"t":54,"a":760,"b":470,"c":790,"d":680,"e":620,"f":760,"g":740,"h":780,"i":420,"j":760,"k":117,"l":690,"m":500,"n":620,"o":620,"x":586},
{"t":55,"a":790,"b":480,"c":760,"d":760,"e":600,"f":790,"g":800,"h":740,"i":430,"j":780,"k":720,"l":695,"m":520,"n":660,"o":640,"x":607},
{"t":56,"a":750,"b":450,"c":780,"d":700,"e":560,"f":740,"g":760,"h":760,"i":420,"j":740,"k":790,"l":660,"m":500,"n":620,"o":700,"x":595},
{"t":57,"a":700,"b":420,"c":740,"d":640,"e":520,"f":700,"g":700,"h":720,"i":400,"j":700,"k":700,"l":600,"m":470,"n":560,"o":600,"x":557},
{"t":58,"a":620,"b":400,"c":680,"d":560,"e":480,"f":640,"g":600,"h":640,"i":380,"j":640,"k":600,"l":520,"m":440,"n":500,"o":520,"x":489},
{"t":59,"a":520,"b":350,"c":570,"d":470,"e":420,"f":540,"g":500,"h":520,"i":320,"j":540,"k":480,"l":420,"m":380,"n":420,"o":440,"x":430},
{"t":60,"a":80,"b":62,"c":92,"d":70,"e":84,"f":58,"g":88,"h":76,"i":54,"j":95,"k":66,"l":72,"m":86,"n":60,"o":78,"x":73}
]},
"transform": [{"fold": ["a","b","c","d","e","f","g","h","i","j","k","l","m","n","o","x"], "as": ["s","v"]}],
"encoding": {
"x": {"field": "t", "type": "quantitative",
 "scale": {"domain": [1,60], "range": [40,568], "nice": false, "zero": false},
 "axis": {"values": [1,6,12,18,24,30,36,42,48,54,60], "title": "Months", "grid": false, "domainColor": "#d9d9d9", "domainWidth": 1.5, "tickColor": "#d9d9d9", "tickWidth": 1.5, "tickSize": 8, "labelFontSize": 21, "labelPadding": 11, "labelFlush": false, "labelOverlap": false, "labelColor": "#404040", "titleFontSize": 24, "titleFontWeight": "bold", "titleColor": "#1f1f1f", "titleY": 75, "titleBaseline": "middle"}},
"y": {"field": "v", "type": "quantitative",
 "scale": {"domain": [0,900], "nice": false, "zero": true},
 "axis": {"values": [0,100,200,300,400,500,600,700,800,900], "title": "Water Savings(m³)", "offset": -40, "grid": false, "domain": false, "ticks": false, "tickSize": 0, "labelPadding": 28, "labelFontSize": 22, "labelOverlap": false, "labelColor": "#404040",
  "labelExpr": "datum.value == 0 ? '0.00E+00' : format(datum.value*1e7/pow(10,floor(log(datum.value*1e7)/LN10+1e-9)),'.2f')+'E+'+(floor(log(datum.value*1e7)/LN10+1e-9)<10?'0':'')+floor(log(datum.value*1e7)/LN10+1e-9)",
  "titleX": -158, "titleY": 160, "titleAngle": 270, "titleBaseline": "middle", "titleAlign": "center", "titleFontSize": 22, "titleFontWeight": "bold", "titleColor": "#1f1f1f"}}
},
"layer": [
{"transform": [{"filter": "datum.s !== 'x'"}],
 "mark": {"type": "line", "strokeWidth": 5.5, "strokeCap": "round", "strokeJoin": "round"},
 "encoding": {"color": {"field": "s", "type": "nominal", "legend": null,
  "scale": {"domain": ["a","b","c","d","e","f","g","h","i","j","k","l","m","n","o"], "range": ["#5B9BD5","#ED7D31","#A5A5A5","#FFC000","#4472C4","#70AD47","#9DC3E6","#A9D18E","#FFD966","#F4B183","#BFBFBF","#1F3864","#595959","#843C0C","#7F6000"]}}}},
{"transform": [{"filter": "datum.s === 'x'"}],
 "mark": {"type": "line", "color": "#000000", "strokeWidth": 9, "strokeCap": "round", "strokeJoin": "round"},
 "encoding": {}},
{"data": {"values": [{"t": 11.06, "v": 1436, "label": "Journal Pre-proof"}]},
 "mark": {"type": "text", "font": "Liberation Sans", "fontSize": 150, "angle": 305, "align": "center", "baseline": "middle", "color": "#c0c0c0", "stroke": "#c0c0c0", "strokeWidth": 4, "opacity": 0.6},
 "encoding": {"text": {"field": "label"}}}
]
}
]
}
